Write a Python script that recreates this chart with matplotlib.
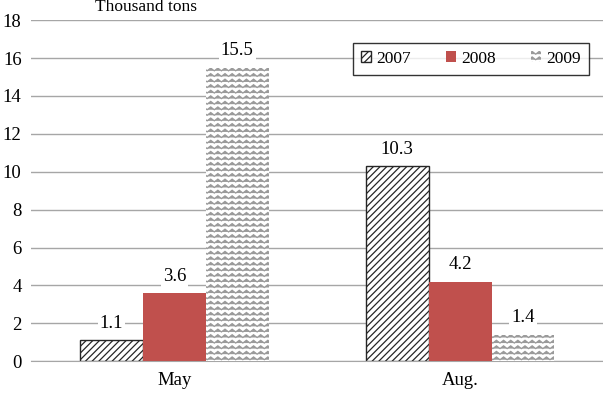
import warnings
import numpy as np
import matplotlib
matplotlib.use("Agg")
import matplotlib.pyplot as plt
import matplotlib.hatch as mhatch
from matplotlib.path import Path

warnings.filterwarnings("ignore")

categories = ["May", "Aug."]
series_names = ["2007", "2008", "2009"]
values_2007 = [1.1, 10.3]
values_2008 = [3.6, 4.2]
values_2009 = [15.5, 1.4]
y_ticks = [0, 2, 4, 6, 8, 10, 12, 14, 16, 18]


class ZigZagHatch(mhatch.HatchPatternBase):
    """Horizontal wavy lines, used for '~' in a hatch string."""
    periods = 14

    def __init__(self, hatch, density):
        self.num_lines = int(hatch.count("~") * density)
        self.pts = self.periods * 2 + 1
        self.num_vertices = self.num_lines * self.pts

    def set_vertices_and_codes(self, vertices, codes):
        steps, stepsize = np.linspace(0.0, 1.0, self.num_lines, False, retstep=True)
        steps += stepsize / 2.0
        xs = np.linspace(0.0, 1.0, self.pts)
        amp = stepsize * 0.25
        offs = np.where(np.arange(self.pts) % 2 == 0, -amp, amp)
        for i, s in enumerate(steps):
            seg = slice(i * self.pts, (i + 1) * self.pts)
            vertices[seg, 0] = xs
            vertices[seg, 1] = s + offs
            codes[seg] = Path.LINETO
            codes[i * self.pts] = Path.MOVETO


mhatch._hatch_types.append(ZigZagHatch)

plt.rcParams["font.family"] = ["Liberation Serif", "DejaVu Serif"]
plt.rcParams["hatch.linewidth"] = 0.9

FS = 13.5

fig = plt.figure(figsize=(6.03, 3.96), dpi=100)
ax = fig.add_axes([0.052, 0.088, 0.948, 0.861])

x = np.arange(len(categories))
w = 0.22

b1 = ax.bar(x - w, values_2007, w, facecolor="white", edgecolor="#262626",
            hatch="/////", linewidth=1.0, label=series_names[0], zorder=3)
b2 = ax.bar(x, values_2008, w, facecolor="#C0504D", edgecolor="#C0504D",
            linewidth=0, label=series_names[1], zorder=3)
b3 = ax.bar(x + w, values_2009, w, facecolor="white", edgecolor="#9a9a9a",
            hatch="~~~", linewidth=0, label=series_names[2], zorder=3)

for bars in (b1, b2, b3):
    for rect in bars:
        h = rect.get_height()
        ax.annotate(f"{h:.1f}", (rect.get_x() + rect.get_width() / 2, h),
                    xytext=(0, 6), textcoords="offset points",
                    ha="center", va="bottom", fontsize=FS,
                    bbox=dict(facecolor="white", edgecolor="none", pad=1.5),
                    zorder=4)

ax.set_xlim(-0.5, 1.5)
ax.set_ylim(0, 18)
ax.set_yticks(y_ticks)
ax.set_xticks(x)
ax.set_xticklabels(categories)
ax.tick_params(axis="both", length=0, labelsize=FS)
ax.tick_params(axis="y", pad=7)
ax.tick_params(axis="x", pad=8)

ax.yaxis.grid(True, color="#a6a6a6", linewidth=1.0, zorder=0)
ax.set_axisbelow(True)
for side in ("left", "right", "top"):
    ax.spines[side].set_visible(False)
ax.spines["bottom"].set_color("#a6a6a6")

leg = ax.legend(ncol=3, loc="upper left", mode="expand",
                bbox_to_anchor=(0.5626, 0.85, 0.413, 0.0826), borderaxespad=0,
                frameon=True, fancybox=False, fontsize=12.5,
                handlelength=0.6, handleheight=0.6, handletextpad=0.3,
                columnspacing=1.5, borderpad=0.45)
leg.get_frame().set_edgecolor("black")
leg.get_frame().set_linewidth(1.0)

fig.text(95 / 603, 1 - 11 / 396, "Thousand tons", fontsize=FS - 1, va="baseline")

fig.savefig("out.png", dpi=100)
